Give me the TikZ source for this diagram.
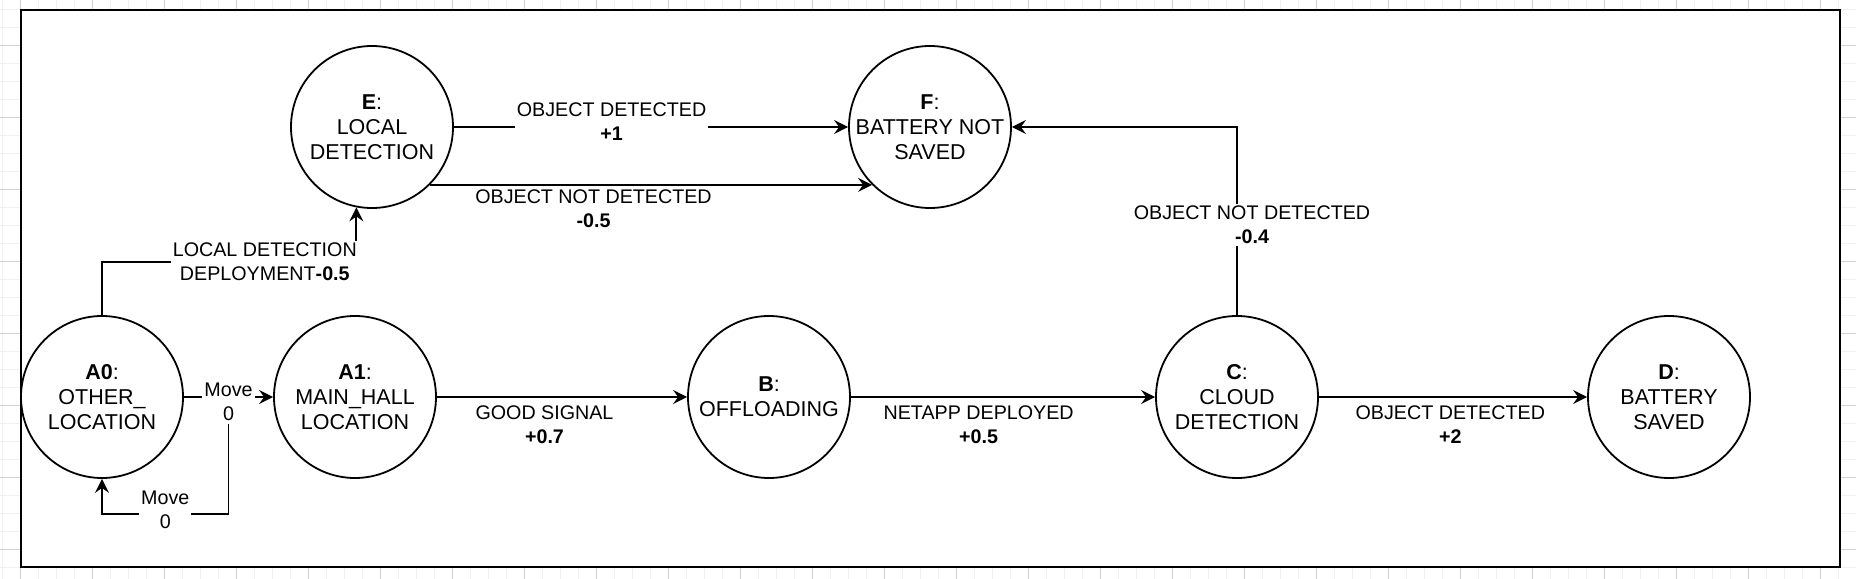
\documentclass[tikz,border=0pt]{standalone}
\usepackage{fontspec}
\setmainfont{Liberation Sans}
\usetikzlibrary{positioning, arrows.meta}

\begin{document}
\begin{tikzpicture}[
    x=1pt, y=1pt,
    state/.style={circle, draw=black, line width=0.9pt, minimum size=81pt, inner sep=0pt, align=center, font=\fontsize{10.75}{12.5}\selectfont},
    lbl/.style={fill=white, inner sep=1pt, align=center, font=\fontsize{9.85}{12}\selectfont},
    arrow/.style={line width=0.9pt, ->, >={Stealth[length=7pt, width=7pt, inset=2.5pt]}}
]
\useasboundingbox (-51,-90.5) rectangle (877,198.5);

% Grid and frame
\draw[gray!12, step=9pt, xshift=-4.7pt, yshift=-4pt] (-60,-100) grid (890,210);
\draw[gray!35, step=36pt, xshift=-4.7pt, yshift=-4pt] (-60,-100) grid (890,210);
\draw[line width=1.2pt, fill=white] (-40.5,-85) rectangle (869,193.5);

% Nodes
\node (a0) [state] {\textbf{A0}:\\OTHER\_\\LOCATION};
\node (a1) [state, right of=a0, node distance=126.5pt] {\textbf{A1}:\\MAIN\_HALL\\LOCATION};
\node (b) [state, right of=a1, node distance=207pt] {\textbf{B}:\\OFFLOADING};
\node (c) [state, right of=b, node distance=234pt] {\textbf{C}:\\CLOUD\\DETECTION};
\node (d) [state, right of=c, node distance=216pt] {\textbf{D}:\\BATTERY\\SAVED};
\node (e) [state, above of=a1, node distance=135pt, xshift=8.5pt] {\textbf{E}:\\LOCAL\\DETECTION};
\node (f) [state, right of=e, node distance=279pt] {\textbf{F}:\\BATTERY NOT\\SAVED};

% Arrows
\draw [arrow] (a0) -- node[lbl, yshift=-2.5pt] (move) {Move\\0} (a1);
\draw [arrow] (move.south) -- (move.south |- 0,-58.5) -| node[lbl, pos=0.25, yshift=2pt] {Move\\0} (a0.south);
\draw [arrow] (a0.north) |- node[lbl, pos=0.82] {LOCAL DETECTION\\DEPLOYMENT\textbf{-0.5}} (e.259 |- 0,67.5) -- (e.259);
\draw [arrow] (e) -- node[lbl, pos=0.4, yshift=2.75pt] {OBJECT DETECTED\\\textbf{+1}} (f);
\draw [arrow] (e.-45) -- node[lbl, pos=0.37, yshift=-11.75pt] {OBJECT NOT DETECTED\\\textbf{-0.5}} (f.-135);
\draw [arrow] (c.north) |- node[lbl, pos=0.24, xshift=7.5pt] {OBJECT NOT DETECTED\\\textbf{-0.4}} (f.east);
\draw [arrow] (a1) -- node[lbl, pos=0.43, yshift=-14pt] {GOOD SIGNAL\\\textbf{+0.7}} (b);
\draw [arrow] (b) -- node[lbl, pos=0.42, yshift=-14pt] {NETAPP DEPLOYED\\\textbf{+0.5}} (c);
\draw [arrow] (c) -- node[lbl, pos=0.49, yshift=-14pt] {OBJECT DETECTED\\\textbf{+2}} (d);

\end{tikzpicture}
\end{document}
